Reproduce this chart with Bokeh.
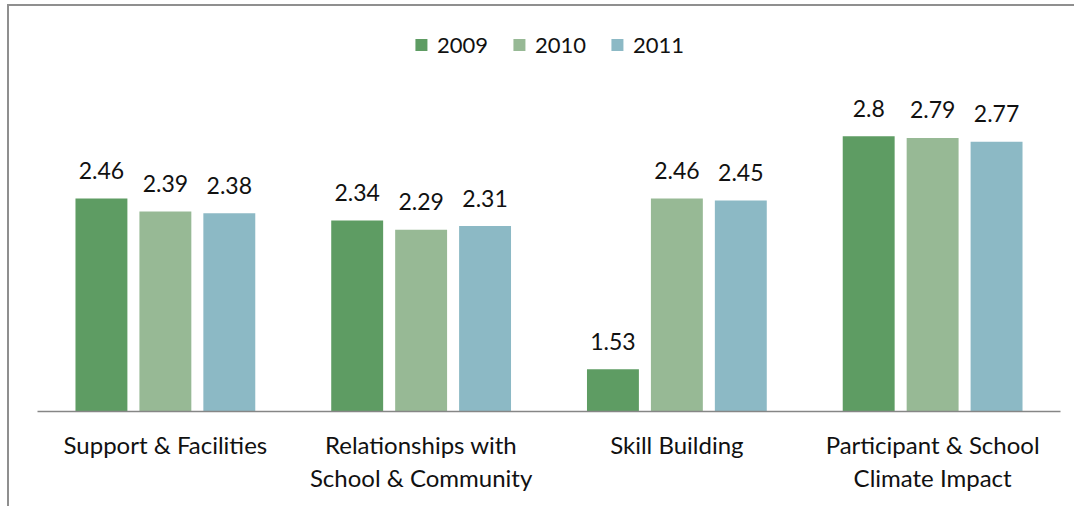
from bokeh.plotting import figure
from bokeh.models import ColumnDataSource, Range1d, FactorRange
from bokeh.transform import dodge
from bokeh.core.properties import value
from bokeh.embed import file_html
from bokeh.resources import INLINE

categories = ["Support & Facilities", "Relationships with\nSchool & Community",
              "Skill Building", "Participant & School\nClimate Impact"]
years = ["2009", "2010", "2011"]
values_2009 = [2.46, 2.34, 1.53, 2.8]
values_2010 = [2.39, 2.29, 2.46, 2.79]
values_2011 = [2.38, 2.31, 2.45, 2.77]
colors = ["#5e9c63", "#97b995", "#8cb9c5"]

FONT = "Lato"

p = figure(x_range=FactorRange(*categories, range_padding=0),
           y_range=Range1d(1.3, 3.43),
           width=1067, height=502, output_backend="svg", toolbar_location=None,
           min_border_left=28, min_border_right=16, min_border_top=14, min_border_bottom=97)
p.styles = {"position": "relative", "left": "9px", "top": "6px", "overflow": "hidden",
            "box-shadow": "-2px -2px 0px 0px #8f8f8f"}

offsets = [-0.25, 0.0, 0.25]
series = [values_2009, values_2010, values_2011]
for yr, vals, col, off in zip(years, series, colors, offsets):
    src = ColumnDataSource(dict(cat=categories, top=vals, lab=[f"{v:g}" for v in vals]))
    p.vbar(x=dodge("cat", off, range=p.x_range), top="top", bottom=1.3, width=0.203,
           source=src, fill_color=col, line_color=None, legend_label=yr)
    p.text(x=dodge("cat", off, range=p.x_range), y="top", text="lab", source=src,
           text_align="center", text_baseline="alphabetic", y_offset=-28,
           text_font=value(FONT), text_font_size="23px", text_color="#111111")

p.xgrid.visible = False
p.ygrid.visible = False
p.yaxis.visible = False
p.outline_line_color = None
p.background_fill_color = "white"
p.border_fill_color = "white"

ax = p.xaxis[0]
ax.axis_line_color = "#868686"
ax.axis_line_width = 1.5
ax.major_tick_line_color = None
ax.minor_tick_line_color = None
ax.major_label_text_font = FONT
ax.major_label_text_font_size = "24px"
ax.major_label_text_color = "#111111"
ax.major_label_standoff = 12
ax.major_label_text_line_height = 1.15

lg = p.legend[0]
lg.location = "top_center"
lg.orientation = "horizontal"
lg.border_line_color = None
lg.background_fill_alpha = 0
lg.margin = 11
lg.padding = 0
lg.spacing = 23
lg.glyph_width = 15
lg.glyph_height = 15
lg.label_standoff = 9
lg.label_text_font = FONT
lg.label_text_font_size = "22px"
lg.label_text_color = "#111111"

open("out.html", "w").write(file_html(p, INLINE))
